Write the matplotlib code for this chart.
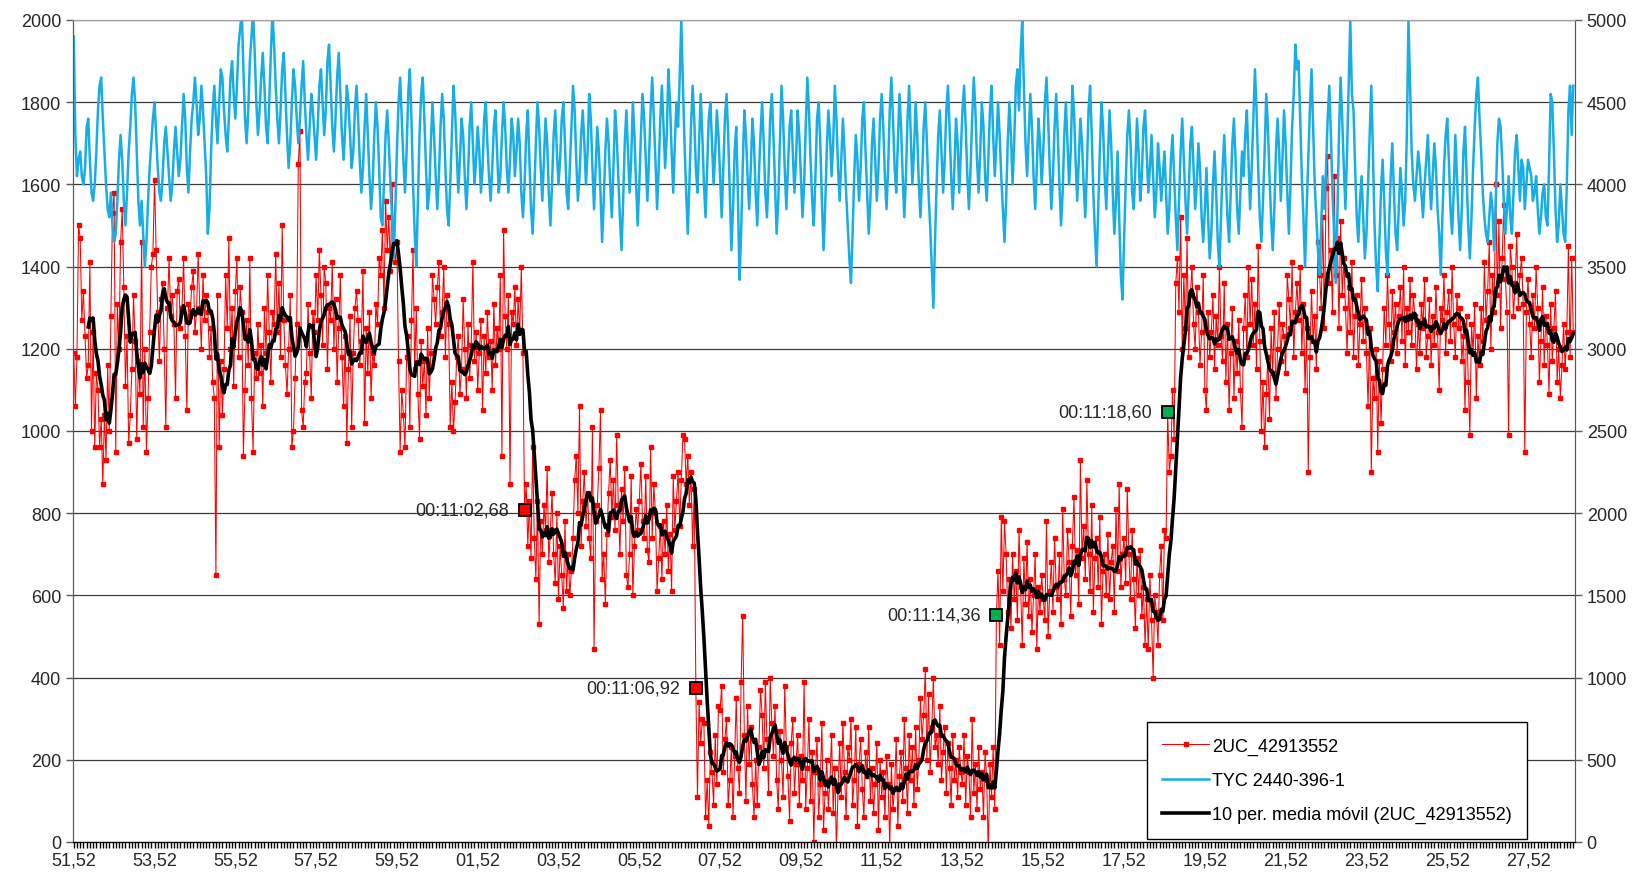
import matplotlib.pyplot as plt
import numpy as np
import pandas as pd

plt.rcParams['font.family'] = ['Liberation Sans', 'DejaVu Sans']
plt.rcParams['font.size'] = 13

# 2UC_42913552, una medida cada 0,04 s desde 00:10:51,52 (eje izquierdo)
red = [
    1190, 1060, 1180, 1500, 1470, 1270, 1340, 1230, 1130, 1160, 1410, 1000, 1240, 960, 1140, 1100, 960, 1030, 870, 1040, 930, 1160, 1000, 1280, 1530,
    1580, 950, 1310, 1200, 1460, 1540, 1350, 1110, 1230, 970, 1040, 1150, 1330, 1220, 980, 1170, 1090, 1460, 1010, 1200, 950, 1080, 1240, 1400, 1430,
    1610, 1440, 1290, 1170, 1320, 1360, 1200, 1010, 1300, 1420, 1280, 1330, 1260, 1080, 1340, 1370, 1250, 1300, 1420, 1230, 1050, 1310, 1280, 1350, 1390,
    1240, 1290, 1430, 1300, 1200, 1380, 1270, 1330, 1290, 1180, 1250, 1120, 1080, 650, 1330, 960, 1170, 1040, 1150, 1380, 1250, 1470, 1200, 1300, 1110,
    1340, 1420, 1180, 1350, 1290, 940, 1100, 1270, 1160, 1420, 1080, 950, 1190, 1130, 1260, 1140, 1210, 1060, 1300, 1190, 1380, 1240, 1120, 1290, 1260,
    1430, 1240, 1360, 1180, 1500, 1270, 1160, 1090, 1200, 1330, 960, 1000, 1130, 1260, 1650, 1730, 1050, 1010, 1120, 1140, 1310, 1190, 1080, 1290, 1240,
    1380, 1270, 1440, 1330, 1210, 1400, 1360, 1150, 1300, 1270, 1410, 1200, 1320, 1120, 1250, 1380, 1180, 1060, 1230, 970, 1150, 1280, 1010, 1190, 1300,
    1340, 1270, 1160, 1220, 1390, 1020, 1250, 1140, 1290, 1080, 1190, 1160, 1310, 1260, 1420, 1380, 1490, 1300, 1560, 1440, 1520, 1390, 1600, 1460, 1410,
    1460, 1170, 950, 1100, 1040, 960, 1180, 1230, 1010, 1270, 1440, 1150, 1300, 1090, 980, 1220, 1110, 1170, 1040, 1250, 1080, 1190, 1380, 1320, 1260,
    1350, 1410, 1230, 1290, 1400, 1180, 1330, 1260, 1010, 1120, 1000, 1070, 1180, 1230, 1090, 1150, 1320, 1200, 1080, 1260, 1130, 1210, 1410, 1170, 1240,
    1100, 1190, 1270, 1050, 1230, 1140, 1290, 1180, 1220, 1100, 1310, 1160, 1250, 1200, 1380, 940, 1490, 1280, 1200, 1330, 870, 1290, 1260, 1350, 1210,
    1320, 1240, 1400, 1190, 807, 870, 720, 830, 690, 960, 740, 640, 830, 530, 780, 700, 820, 760, 910, 680, 760, 850, 700, 630, 800,
    590, 720, 650, 570, 780, 610, 700, 600, 660, 740, 880, 940, 800, 1060, 720, 830, 900, 770, 850, 740, 690, 1010, 470, 780, 820,
    910, 1050, 640, 700, 580, 750, 850, 930, 790, 880, 760, 990, 820, 700, 860, 780, 910, 650, 620, 700, 890, 600, 720, 810, 760,
    830, 920, 780, 740, 890, 710, 680, 960, 740, 870, 800, 610, 690, 770, 640, 780, 700, 820, 660, 750, 610, 890, 760, 830, 900,
    770, 880, 990, 980, 870, 940, 820, 900, 720, 860, 375, 110, 340, 240, 300, 290, 60, 150, 40, 220, 170, 90, 260, 140, 330,
    320, 380, 170, 250, 300, 90, 150, 230, 60, 210, 350, 180, 120, 390, 550, 260, 100, 330, 190, 280, 140, 60, 200, 90, 230,
    370, 310, 180, 390, 250, 120, 400, 290, 210, 330, 150, 80, 270, 200, 110, 380, 230, 160, 50, 240, 300, 120, 190, 260, 90,
    210, 150, 390, 80, 180, 300, 100, 220, 0, 170, 250, 60, 140, 290, 30, 120, 200, 80, 150, 260, 70, 180, -20, 130, 240,
    110, 290, 170, 60, 230, 200, 300, 90, 150, 280, 40, 190, 250, 130, 60, 220, 160, 280, 100, 180, 70, 140, 240, 30, 200,
    110, 170, 60, 210, 140, -10, 190, 80, 130, 250, 40, 160, 220, 100, 300, 180, 70, 260, 150, 230, 90, 280, 130, 200, 350,
    250, 310, 420, 200, 360, 170, 280, 400, 230, 260, 190, 330, 150, 220, 280, 120, 240, 180, 90, 260, 150, 200, 110, 230, 170,
    140, 260, 90, 210, 170, 60, 300, 120, 190, 80, 230, 130, 170, 60, 220, 150, -30, 190, 110, 230, 80, 552, 660, 480, 790,
    610, 780, 700, 560, 640, 520, 700, 590, 660, 540, 760, 620, 480, 690, 580, 730, 550, 640, 510, 600, 700, 470, 620, 560, 650,
    590, 540, 780, 500, 610, 680, 560, 740, 620, 590, 700, 530, 810, 640, 600, 760, 680, 550, 720, 840, 650, 710, 580, 930, 690,
    770, 640, 880, 700, 610, 820, 560, 690, 740, 620, 790, 530, 660, 700, 600, 750, 590, 680, 720, 560, 810, 660, 870, 620, 700,
    740, 630, 860, 700, 590, 760, 640, 520, 690, 600, 710, 550, 620, 480, 590, 470, 650, 540, 400, 600, 560, 480, 650, 720, 540,
    760, 740, 1045, 900, 940, 1100, 980, 1360, 1420, 1290, 1520, 1200, 1380, 1250, 1470, 1180, 1330, 1400, 1260, 1200, 1350, 1290, 1160, 1240, 1380,
    1100, 1050, 1290, 1180, 1240, 1330, 1150, 1280, 1210, 1400, 1230, 1170, 1360, 1120, 1260, 1050, 1190, 1300, 1080, 1220, 1140, 1270, 1100, 1010, 1250,
    1330, 1180, 1400, 1260, 1370, 1210, 1310, 1150, 1450, 1220, 1000, 1120, 960, 1090, 1180, 1030, 1250, 1140, 1290, 1080, 1200, 1310, 1170, 1260, 1230,
    1140, 1380, 1320, 1250, 1410, 1180, 1290, 1360, 1270, 1400, 1190, 1310, 1100, 1250, 900, 1180, 1340, 1220, 1280, 1150, 1460, 1380, 1300, 1520, 1250,
    1590, 1670, 1360, 1440, 1290, 1620, 1380, 1470, 1250, 1510, 1330, 1420, 1300, 1190, 1350, 1240, 1410, 1180, 1280, 1330, 1160, 1260, 1370, 1220, 1300,
    1190, 1060, 1250, 900, 1130, 1080, 1200, 950, 1170, 1020, 1150, 1300, 1210, 1380, 1260, 1170, 1340, 1240, 1310, 1190, 1280, 1350, 1220, 1400, 1160,
    1300, 1240, 1370, 1210, 1330, 1280, 1150, 1260, 1190, 1310, 1250, 1370, 1180, 1230, 1320, 1160, 1280, 1210, 1350, 1240, 1100, 1300, 1270, 1380, 1190,
    1290, 1340, 1220, 1400, 1260, 1180, 1330, 1250, 1300, 1170, 1230, 1050, 1280, 1120, 990, 1260, 1190, 1310, 1080, 1230, 1160, 1300, 1220, 1410, 1270,
    1340, 1460, 1200, 1380, 1290, 1600, 1330, 1510, 1250, 1420, 1550, 1370, 1290, 990, 1450, 1400, 1280, 1360, 1480, 1300, 1380, 1420, 1310, 950, 1290,
    1370, 1260, 1180, 1330, 1250, 1400, 1300, 1120, 1220, 1350, 1160, 1280, 1210, 1090, 1310, 1170, 1250, 1340, 1120, 1200, 1080, 1160, 1260, 1150, 1240,
    1450, 1180, 1420, 1240,
]

# TYC 2440-396-1 (eje secundario)
blue = [
    4900, 4300, 4050, 4150, 4200, 4050, 4000, 4100, 4350, 4400, 4150, 3950, 3900, 4000, 4200, 4450, 4600, 4650, 4400, 4200, 4000, 3850, 3800, 3950, 3750,
    3650, 3700, 3900, 4150, 4300, 4150, 3900, 3750, 3950, 4200, 4350, 4550, 4650, 4500, 4200, 3900, 3750, 3900, 3700, 3500, 3650, 3900, 4100, 4250, 4400,
    4500, 4300, 4100, 3950, 3900, 4050, 4250, 4350, 4200, 4050, 3900, 4000, 4200, 4350, 4200, 4050, 4150, 4350, 4550, 4400, 4100, 3950, 4200, 4400, 4500,
    4650, 4500, 4300, 4400, 4600, 4450, 4250, 4050, 3700, 3850, 4200, 4450, 4600, 4400, 4250, 4500, 4700, 4650, 4450, 4300, 4200, 4400, 4650, 4750, 4550,
    4400, 4600, 4850, 4950, 5050, 4700, 4400, 4250, 4450, 4750, 4900, 5050, 4800, 4500, 4300, 4450, 4650, 4800, 4600, 4350, 4250, 4500, 4800, 5050, 4850,
    4600, 4400, 4250, 4450, 4700, 4800, 4550, 4300, 4100, 4250, 4500, 4700, 4600, 4400, 4250, 4400, 4600, 4750, 4500, 4300, 4150, 4350, 4550, 4450, 4300,
    4150, 4350, 4600, 4700, 4500, 4300, 4450, 4750, 4850, 4600, 4350, 4200, 4400, 4650, 4800, 4550, 4300, 4150, 4350, 4600, 4500, 4300, 4100, 4200, 4450,
    4600, 4400, 4150, 3950, 4100, 4350, 4550, 4300, 4050, 3850, 4000, 4300, 4500, 4350, 4100, 3800, 3750, 4000, 4300, 4450, 4250, 4000, 3800, 3550, 3850,
    4200, 4500, 4650, 4400, 4150, 3950, 4200, 4550, 4700, 4400, 4000, 3700, 3500, 3900, 4300, 4550, 4650, 4400, 4100, 3850, 3950, 4250, 4500, 4300, 4050,
    3850, 4050, 4350, 4550, 4400, 4100, 3850, 3750, 4000, 4300, 4600, 4450, 4200, 3950, 4150, 4400, 4300, 4050, 3850, 4050, 4350, 4500, 4250, 4000, 4150,
    4350, 4200, 3950, 4100, 4400, 4500, 4250, 4050, 3900, 4100, 4350, 4450, 4200, 3950, 4050, 4300, 4500, 4350, 4100, 3950, 4150, 4400, 4300, 4050, 4200,
    4400, 4250, 3950, 3800, 4000, 4300, 4450, 4150, 3850, 3700, 3950, 4250, 4500, 4350, 4100, 3900, 4150, 4400, 4250, 3950, 3750, 4000, 4300, 4450, 4200,
    4000, 4150, 4400, 4500, 4250, 3950, 3850, 4100, 4350, 4600, 4450, 4150, 3900, 4050, 4300, 4450, 4250, 4000, 4200, 4550, 4400, 4100, 3850, 4100, 4350,
    4200, 3950, 3650, 3900, 4200, 4400, 4250, 4000, 3800, 4100, 4450, 4300, 4050, 3800, 3600, 3900, 4250, 4450, 4200, 3950, 4150, 4500, 4300, 4000, 3750,
    4000, 4300, 4550, 4400, 4150, 3900, 4150, 4450, 4650, 4400, 4150, 3850, 4100, 4400, 4600, 4350, 4100, 4300, 4700, 4500, 4200, 3950, 4250, 4500, 4350,
    4650, 5000, 4600, 4250, 3950, 3700, 4000, 4350, 4600, 4400, 4100, 3950, 4250, 4550, 4300, 4000, 3800, 4100, 4400, 4500, 4250, 4000, 4200, 4450, 4300,
    4050, 3800, 4100, 4400, 4550, 4300, 3950, 3600, 3850, 4200, 4350, 3950, 3420, 3700, 4100, 4450, 4300, 4050, 3850, 4100, 4400, 4250, 3950, 3750, 4050,
    4300, 4500, 4250, 3950, 3800, 4050, 4400, 4550, 4300, 4000, 3700, 3900, 4250, 4600, 4400, 4100, 3850, 4100, 4350, 4450, 4200, 3950, 4150, 4450, 4300,
    4050, 3800, 4000, 4350, 4650, 4450, 4150, 3900, 3750, 4050, 4400, 4500, 4250, 3900, 3600, 3850, 4200, 4450, 4300, 4050, 4250, 4600, 4400, 4100, 3900,
    4150, 4400, 4200, 3950, 3750, 3550, 3400, 3700, 4050, 4300, 4150, 3900, 4100, 4400, 4500, 4200, 3950, 3700, 3900, 4250, 4400, 4150, 3900, 4100, 4400,
    4550, 4350, 4050, 3850, 4100, 4450, 4650, 4400, 4100, 3950, 4250, 4550, 4350, 4050, 3800, 4050, 4400, 4600, 4300, 4000, 4200, 4500, 4300, 4000, 3800,
    4050, 4350, 4500, 4250, 3950, 3750, 3500, 3250, 3650, 4000, 4300, 4450, 4200, 3950, 4150, 4450, 4600, 4350, 4050, 3850, 4100, 4400, 4250, 3950, 4200,
    4450, 4600, 4350, 4050, 3850, 4100, 4400, 4650, 4450, 4150, 3950, 4200, 4500, 4350, 4050, 3900, 4150, 4450, 4600, 4300, 4050, 4250, 4500, 4300, 4050,
    3850, 3650, 3900, 4250, 4500, 4300, 4000, 4250, 4600, 4700, 4450, 4800, 5000, 4600, 4250, 4050, 4300, 4550, 4350, 4050, 3850, 4100, 4400, 4250, 4000,
    4200, 4500, 4650, 4400, 4100, 3850, 4050, 4350, 4550, 4300, 4000, 3750, 3950, 4300, 4500, 4250, 4000, 4200, 4600, 4450, 4150, 3900, 4150, 4400, 4250,
    4000, 3800, 4100, 4450, 4600, 4300, 3950, 3700, 3500, 3850, 4200, 4500, 4350, 4050, 3850, 4150, 4450, 4250, 3950, 3700, 3900, 4200, 3800, 3450, 3300,
    3650, 4000, 4300, 4450, 4250, 3950, 3850, 4100, 4400, 4200, 3900, 4050, 4350, 4450, 4200, 3950, 4100, 4300, 4050, 3800, 3950, 4250, 4100, 3900, 4050,
    4200, 3950, 3700, 3850, 4150, 4300, 4050, 3800, 3600, 3900, 4200, 4400, 4150, 3900, 3700, 3950, 4250, 4350, 4100, 3850, 4000, 4250, 4100, 3800, 3650,
    3850, 4100, 3800, 3550, 3700, 4000, 4200, 3950, 3650, 3500, 3800, 4100, 4300, 4050, 3800, 3650, 3950, 4250, 4400, 4150, 3850, 3700, 3950, 4200, 4050,
    4300, 4450, 4150, 3850, 4100, 4400, 4700, 4450, 4100, 3800, 3650, 3900, 4200, 4550, 4350, 4050, 3800, 3600, 3850, 4200, 4400, 4200, 3900, 4150, 4450,
    4250, 3950, 3700, 4000, 4350, 4550, 4850, 4700, 4750, 4400, 4050, 3800, 3500, 3850, 4150, 4450, 4700, 4350, 4000, 3800, 3600, 3450, 3750, 4050, 3850,
    4100, 4400, 4600, 4300, 3950, 3700, 3400, 3800, 4300, 4650, 4400, 4100, 3850, 4200, 4600, 5000, 4550, 4450, 4100, 3800, 3650, 3900, 4050, 3800, 3550,
    3700, 4000, 4300, 4600, 4200, 3750, 3500, 3350, 3650, 3950, 4150, 3900, 3600, 3450, 3750, 4050, 4250, 3950, 3700, 3600, 3850, 4100, 3950, 3750, 3900,
    4300, 5000, 4600, 4200, 4000, 3900, 4050, 4200, 4100, 3950, 3800, 4000, 4150, 4300, 4050, 3850, 4050, 4250, 4100, 3850, 3700, 3450, 3800, 4100, 4300,
    4400, 4150, 3850, 3700, 3950, 4300, 4050, 3800, 3600, 3850, 4200, 4350, 4050, 3750, 3550, 3800, 4100, 4350, 4550, 4650, 4400, 4200, 3950, 3800, 3700,
    3650, 3800, 3950, 3850, 3600, 3900, 4250, 4400, 4350, 4150, 3900, 3700, 3850, 4050, 3800, 3700, 3950, 4200, 4300, 4100, 3900, 4150, 4100, 3850, 4000,
    4150, 4100, 4050, 3900, 3950, 4050, 3850, 3700, 3800, 3950, 4000, 3800, 3750, 4100, 4550, 4500, 4200, 3850, 3650, 3750, 4000, 3850, 3700, 3650, 4000,
    4450, 4600, 4300, 4600,
]

x_labels = ["51,52", "53,52", "55,52", "57,52", "59,52", "01,52", "03,52", "05,52",
            "07,52", "09,52", "11,52", "13,52", "15,52", "17,52", "19,52", "21,52",
            "23,52", "25,52", "27,52"]
label_step = 50  # 2 s entre etiquetas, 0,04 s por medida

ann_labels = ["00:11:02,68", "00:11:06,92", "00:11:14,36", "00:11:18,60"]
ann_idx = [279, 385, 571, 677]
ann_colors = ["#ff0000", "#ff0000", "#00b050", "#00b050"]

#Media movil de 10 periodos
ma = pd.Series(red).rolling(10).mean()

fig = plt.figure(figsize=(16.46, 8.78), dpi=100)
ax = fig.add_axes([0.0443, 0.0399, 0.9125, 0.9362])

l_red, = ax.plot(np.arange(len(red)), red, color='#ff0000', lw=0.75, marker='s', ms=3.2,
                 mec='#ff0000', label='2UC_42913552', zorder=2)

ax2 = ax.twinx()
l_blue, = ax2.plot(np.arange(len(blue)), blue, color='#17aee6', lw=1.8, label='TYC 2440-396-1')
l_ma, = ax2.plot(np.arange(len(red)), ma, color='black', lw=2.6, transform=ax.transData,
                 label='10 per. media móvil (2UC_42913552)')

#Marcas de los contactos
for lab, i, c in zip(ann_labels, ann_idx, ann_colors):
    ax2.plot(i, red[i], 's', ms=9, mfc=c, mec='black', mew=1.3, transform=ax.transData, zorder=5)
    ax2.annotate(lab, xy=(i, red[i]), xycoords=ax.transData, xytext=(-11, 0),
                 textcoords='offset points', ha='right', va='center', fontsize=13, color='#262626')

ax.set_xlim(-0.5, 929)
ax.set_ylim(0, 2000)
ax2.set_ylim(0, 5000)
ax.set_yticks(range(0, 2001, 200))
ax2.set_yticks(range(0, 5001, 500))
ax.set_xticks(np.arange(len(x_labels)) * label_step)
ax.set_xticklabels(x_labels)
ax.set_xticks(np.arange(0, 929, 2), minor=True)

ax.yaxis.grid(True, color='#3a3a3a', lw=0.9)
ax.set_axisbelow(True)
ax.tick_params(axis='x', which='both', direction='out', length=4, width=1, color='black')
ax.tick_params(axis='x', labelsize=13, labelcolor='#262626', pad=3)
ax.tick_params(axis='y', direction='out', length=5, width=1, color='#595959', labelsize=13, labelcolor='#262626')
ax2.tick_params(axis='y', direction='out', length=5, width=1, color='#595959', labelsize=13, labelcolor='#262626')

for a in (ax, ax2):
    a.spines['top'].set_color('#a0a0a0')
    a.spines['left'].set_color('#595959')
    a.spines['right'].set_color('#595959')
    a.spines['bottom'].set_color('black')

leg = ax2.legend([l_red, l_blue, l_ma], [l_red.get_label(), l_blue.get_label(), l_ma.get_label()],
                 loc='lower right', bbox_to_anchor=(0.968, 0.004), borderaxespad=0, fontsize=13,
                 fancybox=False, edgecolor='black', framealpha=1, handlelength=2.6,
                 handletextpad=0.15, labelspacing=0.95, borderpad=0.85)
leg.get_frame().set_linewidth(1)

plt.savefig("out.png", dpi=100)
